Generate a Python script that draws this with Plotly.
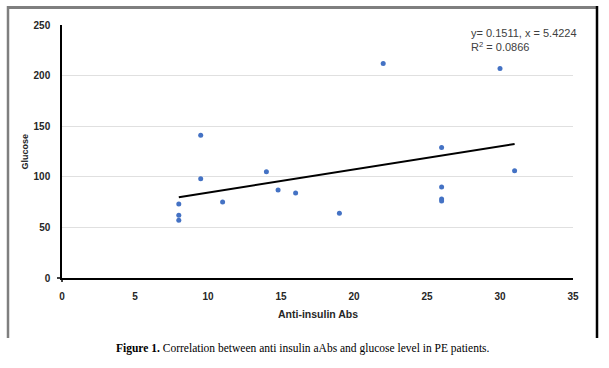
import numpy as np
import plotly.graph_objects as go

# Data
anti_insulin = [8, 8, 8, 9.5, 9.5, 11, 14, 14.8, 16, 19, 22, 26, 26, 26, 26, 30, 31]
glucose = [73, 62, 57, 141, 98, 75, 105, 87, 84, 64, 212, 129, 90, 78, 76, 207, 106]
x_ticks = [0, 5, 10, 15, 20, 25, 30, 35]
y_ticks = [0, 50, 100, 150, 200, 250]
eq_text = "y= 0.1511, x = 5.4224<br>R<sup>2</sup> = 0.0866"
caption = "<b>Figure 1.</b> Correlation between anti insulin aAbs and glucose level in PE patients."

W, H = 609, 368
L, R, T, B = 62, 36, 25, 90
pw, ph = W - L - R, H - T - B


def px(xp):
    return (xp - L) / pw


def py(yp):
    return (H - B - yp) / ph


slope, intercept = np.polyfit(anti_insulin, glucose, 1)
xl = np.array([min(anti_insulin), max(anti_insulin)])
yl = slope * xl + intercept

fig = go.Figure()
fig.add_trace(go.Scatter(x=anti_insulin, y=glucose, mode="markers",
                         marker=dict(color="#4472C4", size=5), showlegend=False))
fig.add_trace(go.Scatter(x=xl, y=yl, mode="lines",
                         line=dict(color="black", width=2), showlegend=False))

font_main = "Liberation Sans"
fig.update_layout(
    width=W, height=H,
    margin=dict(l=L, r=R, t=T, b=B),
    paper_bgcolor="white", plot_bgcolor="white",
    showlegend=False,
    xaxis=dict(range=[0, 35], tickvals=x_ticks, showgrid=False, zeroline=False,
               showline=True, linecolor="black", linewidth=1.5,
               ticks="", ticklabelstandoff=8,
               tickfont=dict(family=font_main, size=10, color="#262626", weight="bold")),
    yaxis=dict(range=[0, 250], tickvals=y_ticks, showgrid=True, gridcolor="#e0e0e0",
               gridwidth=1, zeroline=False, showline=True, linecolor="black", linewidth=1.5,
               ticks="", ticklabelstandoff=8,
               tickfont=dict(family=font_main, size=10, color="#262626", weight="bold")),
)

fig.add_annotation(x=px(17), y=0.5, xref="paper", yref="paper", text="<b>Glucose</b>",
                   textangle=-90, showarrow=False,
                   font=dict(family=font_main, size=9, color="#262626"))
fig.add_annotation(x=0.5, y=py(322), xref="paper", yref="paper", text="<b>Anti-insulin Abs</b>",
                   showarrow=False, font=dict(family=font_main, size=10.5, color="#262626"))
fig.add_annotation(x=px(469), y=py(40), xref="paper", yref="paper", text=eq_text,
                   xanchor="left", yanchor="middle", align="left", showarrow=False,
                   font=dict(family=font_main, size=11, color="#404040"))
fig.add_annotation(x=px(303), y=py(357), xref="paper", yref="paper", text=caption,
                   showarrow=False, font=dict(family="Liberation Serif", size=11.5, color="black"))

# frame around the chart: top + left grey, right black
fig.add_shape(type="rect", xref="paper", yref="paper",
              x0=px(7), x1=px(598), y0=py(6), y1=py(9),
              fillcolor="#7f7f7f", line=dict(width=0))
fig.add_shape(type="line", xref="paper", yref="paper", x0=px(8), x1=px(8), y0=py(6), y1=py(338),
              line=dict(color="#7f7f7f", width=2.5))
fig.add_shape(type="line", xref="paper", yref="paper", x0=px(597), x1=px(597), y0=py(6), y1=py(338),
              line=dict(color="black", width=2.5))
# small axis overhang at origin
fig.add_shape(type="line", xref="paper", yref="paper", x0=px(57), x1=0, y0=0, y1=0,
              line=dict(color="black", width=1.5))
fig.add_shape(type="line", xref="paper", yref="paper", x0=0, x1=0, y0=py(282), y1=0,
              line=dict(color="black", width=1.5))

fig.write_html("out.html", config={"displayModeBar": False},
               post_script="document.body.style.margin='0';document.body.style.overflow='hidden';")
